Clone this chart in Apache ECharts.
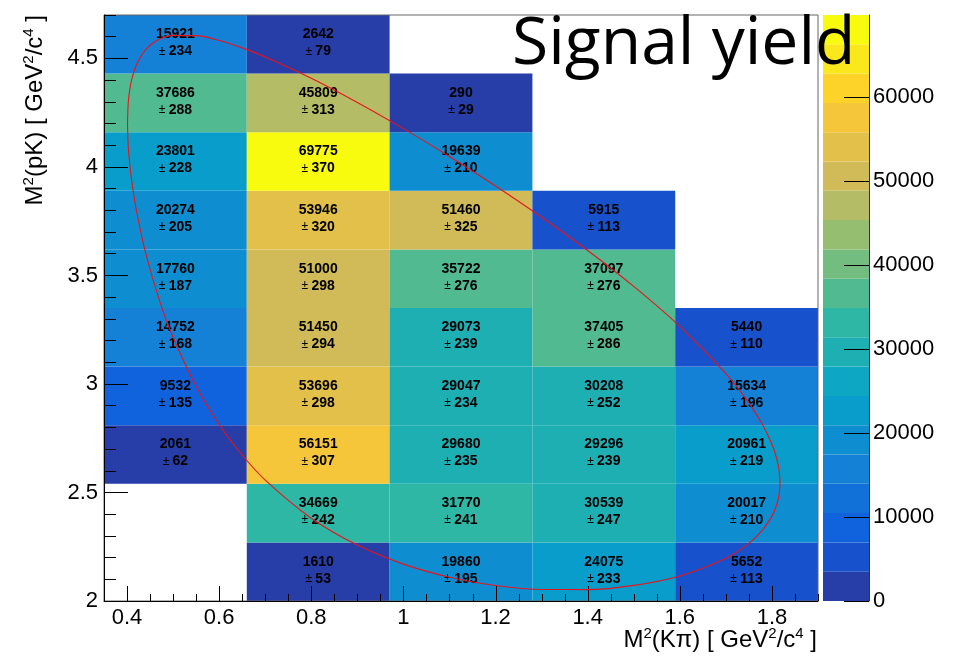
<!DOCTYPE html>
<html><head><meta charset="utf-8">
<script src="https://cdn.jsdelivr.net/npm/echarts@6/dist/echarts.min.js"></script>
<style>html,body{margin:0;padding:0;background:#fff}#c{width:957px;height:656px}</style>
</head><body><div id="c"></div>
<script>
// ---- data ----
const xEdges = [0.35, 0.66, 0.97, 1.28, 1.59, 1.90];
const yEdges = [2.00, 2.27, 2.54, 2.81, 3.08, 3.35, 3.62, 3.89, 4.16, 4.43, 4.70];
// rows bottom -> top, columns left -> right (null = empty bin)
const yields = [
  [null, 1610, 19860, 24075, 5652],
  [null, 34669, 31770, 30539, 20017],
  [2061, 56151, 29680, 29296, 20961],
  [9532, 53696, 29047, 30208, 15634],
  [14752, 51450, 29073, 37405, 5440],
  [17760, 51000, 35722, 37097, null],
  [20274, 53946, 51460, 5915, null],
  [23801, 69775, 19639, null, null],
  [37686, 45809, 290, null, null],
  [15921, 2642, null, null, null]
];
const errors = [
  [null, 53, 195, 233, 113],
  [null, 242, 241, 247, 210],
  [62, 307, 235, 239, 219],
  [135, 298, 234, 252, 196],
  [168, 294, 239, 286, 110],
  [187, 298, 276, 276, null],
  [205, 320, 325, 113, null],
  [228, 370, 210, null, null],
  [288, 313, 29, null, null],
  [234, 79, null, null, null]
];
const xTicks = [0.4, 0.6, 0.8, 1, 1.2, 1.4, 1.6, 1.8];
const yTicks = [2, 2.5, 3, 3.5, 4, 4.5];
const zTicks = [0, 10000, 20000, 30000, 40000, 50000, 60000];
const zMax = 69775;
const nContours = 20;
// Dalitz boundary (red contour)
const boundaryS = [0.4010, 0.4025, 0.405, 0.41, 0.42, 0.44, 0.47, 0.5, 0.55, 0.6, 0.65, 0.7, 0.8, 0.9, 1.0, 1.1, 1.2, 1.3, 1.4, 1.5, 1.6, 1.7, 1.75, 1.78, 1.8, 1.81, 1.815, 1.8176];
const boundaryUpper = [4.2008, 4.2907, 4.3420, 4.4010, 4.4689, 4.5397, 4.5878, 4.6060, 4.6049, 4.5827, 4.5486, 4.5068, 4.4085, 4.2971, 4.1764, 4.0480, 3.9122, 3.7684, 3.6152, 3.4495, 3.2654, 3.0479, 2.9127, 2.8111, 2.7220, 2.6588, 2.6105, 2.5451];
const boundaryLower = [4.2008, 4.1003, 4.0316, 3.9382, 3.8037, 3.6074, 3.3878, 3.2152, 2.9890, 2.8135, 2.6726, 2.5573, 2.3816, 2.2576, 2.1699, 2.1097, 2.0717, 2.0530, 2.0526, 2.0719, 2.1154, 2.1970, 2.2658, 2.3280, 2.3911, 2.4412, 2.4830, 2.5451];

// ---- palette (ROOT kBird) ----
const stops = [0, 0.125, 0.25, 0.375, 0.5, 0.625, 0.75, 0.875, 1];
const pr = [0.2082, 0.0592, 0.0780, 0.0232, 0.1802, 0.5301, 0.8186, 0.9956, 0.9764];
const pg = [0.1664, 0.3599, 0.5041, 0.6419, 0.7178, 0.7492, 0.7328, 0.7862, 0.9832];
const pb = [0.5293, 0.8684, 0.8385, 0.7914, 0.6425, 0.4662, 0.3499, 0.1968, 0.0539];
function bird(t) {
  let k = 0;
  while (k < stops.length - 2 && t > stops[k + 1]) k++;
  const f = (t - stops[k]) / (stops[k + 1] - stops[k]);
  const c = a => Math.round(255 * (a[k] + (a[k + 1] - a[k]) * f));
  return 'rgb(' + c(pr) + ',' + c(pg) + ',' + c(pb) + ')';
}
const bandColors = [];
for (let i = 0; i < nContours; i++) {
  const idx = Math.floor((i + 0.99) * 255 / nContours);
  bandColors.push(bird(Math.min(idx, 254) / 254));
}
const step = zMax / nContours;
function colorOf(v) { return bandColors[Math.min(nContours - 1, Math.floor(v / step))]; }

// ---- series data ----
const cells = [];
for (let r = 0; r < yields.length; r++) {
  for (let c = 0; c < yields[r].length; c++) {
    if (yields[r][c] == null) continue;
    cells.push([(xEdges[c] + xEdges[c + 1]) / 2, (yEdges[r] + yEdges[r + 1]) / 2, c, r, yields[r][c], errors[r][c]]);
  }
}
const bands = [];
for (let i = 0; i < nContours; i++) bands.push([0.5, (i + 0.5) * step, i]);
const contour = [];
for (let i = 0; i < boundaryS.length; i++) contour.push([boundaryS[i], boundaryUpper[i]]);
for (let i = boundaryS.length - 1; i >= 0; i--) contour.push([boundaryS[i], boundaryLower[i]]);
// x-axis tick marks (major from xTicks, minor every 0.05 across the axis range)
const xTickMarks = xTicks.map(v => [v, 2, 1]);
for (let k = 0; k <= 31; k++) {
  const v = Math.round((0.35 + 0.05 * k) * 100) / 100;
  if (xTicks.indexOf(v) < 0) xTickMarks.push([v, 2, 0]);
}

const FONT = 'Liberation Sans, Helvetica, Arial, sans-serif';
const chart = echarts.init(document.getElementById('c'), null, { renderer: 'canvas' });
const supRich = {
  n: { fontSize: 24, fontFamily: FONT, color: '#000', lineHeight: 27 },
  s: { fontSize: 15, fontFamily: FONT, color: '#000', verticalAlign: 'top', lineHeight: 27 }
};
const cellRich = {
  b: { fontSize: 14, fontWeight: 'bold', fontFamily: FONT, color: '#000', lineHeight: 17 },
  pm: { fontSize: 12, fontWeight: 'normal', fontFamily: FONT, color: '#000', lineHeight: 17 }
};
const plain = v => String(v);
chart.setOption({
  animation: false,
  backgroundColor: '#fff',
  title: {
    text: 'Signal yield', left: 512, top: 12, padding: 0, z: 20,
    textStyle: { fontFamily: 'Open Sans', fontWeight: 'normal', fontSize: 66, color: '#000' }
  },
  grid: [
    { left: 104, right: 139, top: 15, bottom: 55, show: true, borderColor: '#666', borderWidth: 1, backgroundColor: 'transparent' },
    { left: 823, right: 88, top: 15, bottom: 55, show: false }
  ],
  xAxis: [
    { type: 'value', gridIndex: 0, position: 'bottom', min: 0.35, max: 1.9,
      axisLine: { show: true, onZero: false, lineStyle: { color: '#000', width: 1 } },
      axisTick: { show: false },
      axisLabel: { customValues: xTicks, formatter: plain, fontSize: 22, fontFamily: FONT, color: '#000', margin: 6 },
      splitLine: { show: false } },
    { type: 'value', gridIndex: 1, position: 'bottom', min: 0, max: 1, show: false }
  ],
  yAxis: [
    { type: 'value', gridIndex: 0, position: 'left', min: 2, max: 4.7, z: 10,
      axisLine: { show: true, onZero: false, lineStyle: { color: '#000', width: 1 } },
      axisTick: { show: true, inside: true, length: 24, customValues: yTicks, lineStyle: { color: '#000' } },
      axisLabel: { customValues: yTicks, formatter: plain, fontSize: 22, fontFamily: FONT, color: '#000', margin: 6 },
      splitLine: { show: false } },
    { type: 'value', gridIndex: 0, position: 'left', min: 2, max: 4.7, interval: 0.1, z: 10,
      axisLine: { show: false, onZero: false },
      axisTick: { show: true, inside: true, length: 12, lineStyle: { color: '#000' } },
      axisLabel: { show: false }, splitLine: { show: false } },
    { type: 'value', gridIndex: 1, position: 'right', min: 0, max: zMax, z: 10,
      axisLine: { show: true, onZero: false, lineStyle: { color: '#333', width: 1 } },
      axisTick: { show: true, inside: true, length: 25, customValues: zTicks, lineStyle: { color: '#000' } },
      axisLabel: { customValues: zTicks, formatter: plain, fontSize: 22, fontFamily: FONT, color: '#000', margin: 4 },
      splitLine: { show: false } }
  ],
  graphic: [
    { type: 'text', x: 817, y: 640, z: 20,
      style: { text: '{n|M}{s|2}{n|(Kπ) [ GeV}{s|2}{n|/c}{s|4}{n| ]}', rich: supRich, align: 'right', verticalAlign: 'middle' } },
    { type: 'text', x: 35, y: 15, rotation: Math.PI / 2, z: 20,
      style: { text: '{n|M}{s|2}{n|(pK) [ GeV}{s|2}{n|/c}{s|4}{n| ]}', rich: supRich, align: 'right', verticalAlign: 'middle' } }
  ],
  series: [
    { type: 'custom', xAxisIndex: 0, yAxisIndex: 0, data: cells, z: -1,
      encode: { x: 0, y: 1 },
      renderItem: function (params, api) {
        const c = api.value(2), r = api.value(3), v = api.value(4), e = api.value(5);
        const p0 = api.coord([xEdges[c], yEdges[r + 1]]);
        const p1 = api.coord([xEdges[c + 1], yEdges[r]]);
        return { type: 'group', children: [
          { type: 'rect', shape: { x: p0[0], y: p0[1], width: p1[0] - p0[0], height: p1[1] - p0[1] },
            style: { fill: colorOf(v) } },
          { type: 'text', x: (p0[0] + p1[0]) / 2, y: (p0[1] + p1[1]) / 2 - 1.5,
            style: { text: '{b|' + v + '}\n{pm|±} {b|' + e + '}', rich: cellRich,
              align: 'center', verticalAlign: 'middle' } }
        ] };
      } },
    { type: 'custom', xAxisIndex: 1, yAxisIndex: 2, data: bands, z: -1,
      encode: { x: 0, y: 1 },
      renderItem: function (params, api) {
        const i = api.value(2);
        const p0 = api.coord([0, (i + 1) * step]);
        const p1 = api.coord([1, i * step]);
        return { type: 'rect', shape: { x: p0[0], y: p0[1], width: p1[0] - p0[0], height: p1[1] - p0[1] },
          style: { fill: bandColors[i] } };
      } },
    { type: 'custom', xAxisIndex: 0, yAxisIndex: 0, data: xTickMarks, z: 4, clip: false, silent: true,
      encode: { x: 0, y: 1 },
      renderItem: function (params, api) {
        const p = api.coord([api.value(0), api.value(1)]);
        const len = api.value(2) ? 15 : 7;
        const x = Math.round(p[0]) + 0.5;
        return { type: 'line', shape: { x1: x, y1: p[1], x2: x, y2: p[1] - len },
          style: { stroke: '#000', lineWidth: 1 } };
      } },
    { type: 'line', xAxisIndex: 0, yAxisIndex: 0, data: contour, z: 5,
      showSymbol: false, smooth: 0.3, clip: false,
      lineStyle: { color: '#e8141b', width: 1.1 } }
  ]
});
</script></body></html>
